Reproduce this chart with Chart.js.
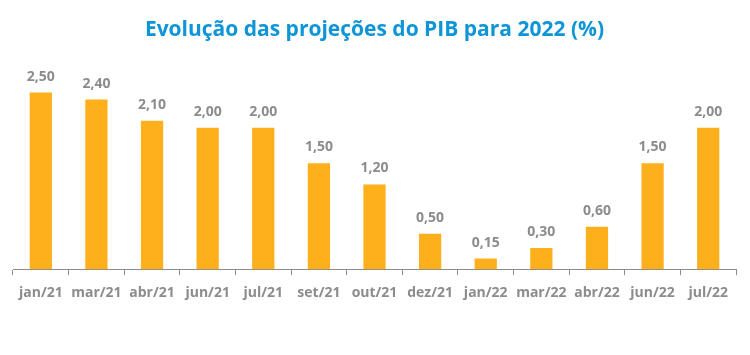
<!DOCTYPE html>
<html><head><meta charset="utf-8">
<script src="https://cdn.jsdelivr.net/npm/chart.js@4/dist/chart.umd.min.js"></script>
<style>html,body{margin:0;padding:0;background:#fff}</style>
</head><body>
<canvas id="c" width="750" height="355"></canvas>
<script>
const categories = ["jan/21","mar/21","abr/21","jun/21","jul/21","set/21","out/21","dez/21","jan/22","mar/22","abr/22","jun/22","jul/22"];
const projecoes = [2.50,2.40,2.10,2.00,2.00,1.50,1.20,0.50,0.15,0.30,0.60,1.50,2.00];
const titleText = "Evolução das projeções do PIB para 2022 (%)";

const FONT = "'Open Sans', 'DejaVu Sans', sans-serif";
const labelPlugin = {
  id: 'barLabels',
  afterDatasetsDraw(chart) {
    const ctx = chart.ctx;
    const meta = chart.getDatasetMeta(0);
    ctx.save();
    ctx.fillStyle = '#8c8c8c';
    ctx.font = 'bold 14px ' + FONT;
    ctx.textAlign = 'center';
    ctx.textBaseline = 'alphabetic';
    meta.data.forEach((bar, i) => {
      const v = chart.data.datasets[0].data[i];
      ctx.fillText(v.toFixed(2).replace('.', ','), bar.x, bar.y - 12);
    });
    ctx.restore();
  }
};

new Chart(document.getElementById('c'), {
  type: 'bar',
  data: {
    labels: categories,
    datasets: [{
      data: projecoes,
      backgroundColor: '#fdb01b',
      barPercentage: 0.8,
      categoryPercentage: 0.5
    }]
  },
  options: {
    responsive: false,
    animation: false,
    layout: { padding: { left: 13, right: 14, top: 0, bottom: 45 } },
    plugins: {
      legend: { display: false },
      tooltip: { enabled: false },
      title: {
        display: true,
        text: titleText,
        color: '#0e95d8',
        font: { family: FONT, size: 21, weight: 'bold' },
        padding: { top: 17, bottom: 15 }
      }
    },
    scales: {
      y: { display: false, min: 0, max: 3 },
      x: {
        grid: { display: true, drawOnChartArea: false, drawTicks: true, tickLength: 6, color: '#8c8c8c', offset: true },
        border: { display: true, color: '#8c8c8c', width: 1 },
        ticks: { color: '#8c8c8c', font: { family: FONT, size: 14, weight: 'bold' }, padding: 9, maxRotation: 0, autoSkip: false }
      }
    }
  },
  plugins: [labelPlugin]
});
</script>
</body></html>
